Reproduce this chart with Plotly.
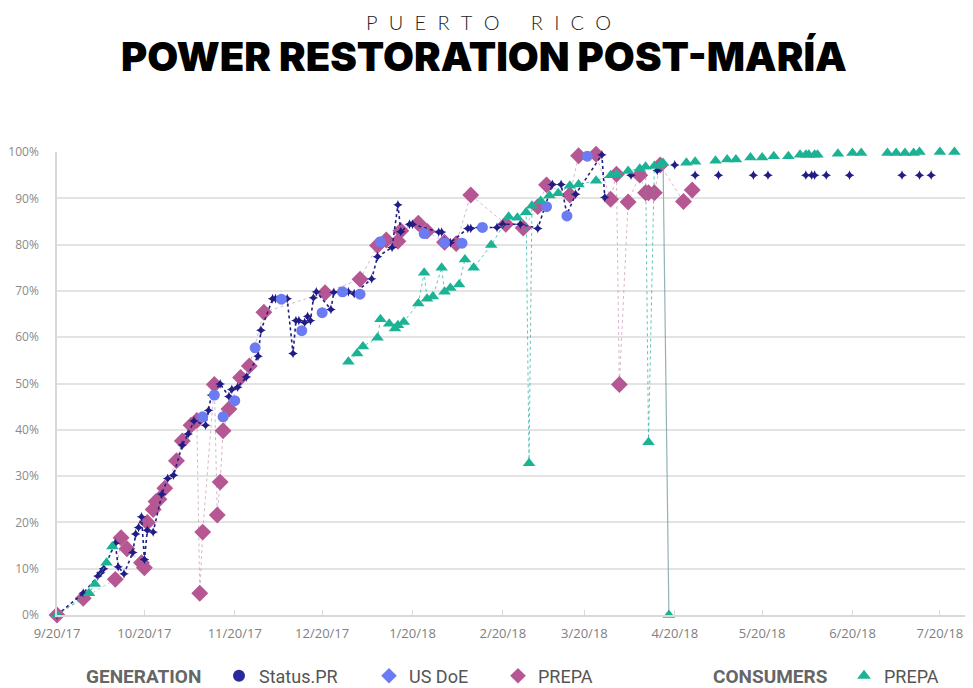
import plotly.graph_objects as go

# ---------------- DATA ----------------
# Generation - Status.PR (connected part)
status_dates = ["2017-09-20","2017-09-29","2017-10-04","2017-10-05","2017-10-06","2017-10-10","2017-10-11",
    "2017-10-13","2017-10-16","2017-10-17","2017-10-18","2017-10-19","2017-10-20","2017-10-21","2017-10-23",
    "2017-10-26","2017-10-28","2017-10-30","2017-11-02","2017-11-04","2017-11-06","2017-11-10","2017-11-11",
    "2017-11-12","2017-11-15","2017-11-18","2017-11-19","2017-11-21","2017-11-24","2017-11-28","2017-11-29",
    "2017-12-03","2017-12-04","2017-12-08","2017-12-10","2017-12-11","2017-12-12","2017-12-14","2017-12-15",
    "2017-12-16","2017-12-17","2017-12-18","2017-12-23","2017-12-24","2017-12-26","2017-12-29","2017-12-31",
    "2018-01-06","2018-01-08","2018-01-13","2018-01-15","2018-01-16","2018-01-19","2018-01-20","2018-01-29",
    "2018-01-30","2018-01-31","2018-02-02","2018-02-08","2018-02-09","2018-02-12","2018-02-18","2018-02-20",
    "2018-02-26","2018-03-04","2018-03-09","2018-03-12","2018-03-14","2018-03-17","2018-03-26","2018-03-27"]
status_vals = [0,4.7,8.4,9.1,10.0,15.5,10.4,8.9,13.5,17.5,18.9,21.2,12.0,18.3,17.9,26.1,29.5,30.2,36.7,39.1,
    41.9,41.0,44.2,47.5,49.9,47.2,48.7,49.2,51.4,55.9,61.5,68.3,68.3,68.3,56.5,63.6,63.6,63.2,64.5,63.6,68.5,
    69.8,66.0,69.7,69.8,69.8,69.4,72.6,77.4,79.4,88.6,82.8,84.4,84.4,82.7,82.7,80.8,80.4,83.5,83.5,83.7,83.7,
    84.4,84.4,83.5,93.0,93.0,86.5,90.9,99.4,90.2]
# Generation - Status.PR (isolated reports)
status_late_dates = ["2018-04-05","2018-04-14","2018-04-20","2018-04-27","2018-05-05","2018-05-17","2018-05-22",
    "2018-06-04","2018-06-06","2018-06-07","2018-06-11","2018-06-19","2018-07-07","2018-07-13","2018-07-17"]
status_late_vals = [95.0,96.0,97.2,95.0,95.0,95.0,95.0,95.0,95.0,95.0,95.0,95.0,95.0,95.0,95.0]

# Generation - US DoE
doe_dates = ["2017-11-09","2017-11-13","2017-11-16","2017-11-20","2017-11-27","2017-12-06","2017-12-13",
    "2017-12-20","2017-12-27","2018-01-02","2018-01-09","2018-01-24","2018-01-31","2018-02-06","2018-02-13",
    "2018-03-07","2018-03-14","2018-03-21"]
doe_vals = [42.8,47.5,42.8,46.3,57.7,68.2,61.4,65.3,69.8,69.3,80.6,82.4,80.4,80.3,83.7,88.2,86.2,99.1]

# Generation - PREPA
prepa_gen_dates = ["2017-09-20","2017-09-29","2017-10-10","2017-10-12","2017-10-14","2017-10-19","2017-10-20",
    "2017-10-21","2017-10-23","2017-10-24","2017-10-25","2017-10-27","2017-10-31","2017-11-02","2017-11-05",
    "2017-11-07","2017-11-08","2017-11-09","2017-11-13","2017-11-14","2017-11-15","2017-11-16","2017-11-18",
    "2017-11-22","2017-11-25","2017-11-30","2017-12-21","2018-01-02","2018-01-08","2018-01-11","2018-01-15",
    "2018-01-16","2018-01-22","2018-01-25","2018-01-31","2018-02-04","2018-02-09","2018-02-21","2018-02-27",
    "2018-03-04","2018-03-07","2018-03-15","2018-03-18","2018-03-24","2018-03-29","2018-03-31","2018-04-01",
    "2018-04-04","2018-04-08","2018-04-10","2018-04-11","2018-04-13","2018-04-15","2018-04-23","2018-04-26"]
prepa_gen_vals = [0,3.6,7.7,16.7,14.3,11.3,10.2,20.0,22.8,24.5,25.0,27.4,33.3,37.6,41.0,42.0,4.7,17.9,49.8,
    21.6,28.7,39.8,44.5,51.3,53.8,65.4,69.6,72.5,79.8,81.0,80.7,83.0,84.6,82.9,80.5,80.2,90.7,84.4,83.6,88.2,
    92.9,90.7,99.2,99.5,89.8,95.2,49.8,89.2,95.0,91.2,91.2,91.2,97.2,89.3,91.8]

# Consumers - PREPA
cons_early_dates = ["2017-09-20","2017-10-01","2017-10-03","2017-10-07","2017-10-09"]
cons_early_vals = [0,4.7,6.7,11.3,14.8]
cons_dates = ["2017-12-29","2018-01-01","2018-01-03","2018-01-08","2018-01-09","2018-01-12","2018-01-14",
    "2018-01-15","2018-01-17","2018-01-22","2018-01-24","2018-01-25","2018-01-27","2018-01-30","2018-01-31",
    "2018-02-02","2018-02-05","2018-02-07","2018-02-10","2018-02-16","2018-02-22","2018-02-25","2018-02-28",
    "2018-03-01","2018-03-02","2018-03-05","2018-03-08","2018-03-11","2018-03-15","2018-03-18","2018-03-24",
    "2018-03-29","2018-03-31","2018-04-04","2018-04-08","2018-04-10","2018-04-11","2018-04-13","2018-04-15",
    "2018-04-16"]
cons_vals = [54.7,56.5,58.0,59.9,63.9,62.9,61.9,62.6,63.3,67.3,73.9,68.3,68.8,75.0,69.8,70.6,71.4,76.8,75.0,
    79.9,86.0,85.8,87.0,32.8,88.4,89.4,90.6,91.1,92.7,93.0,93.8,95.0,95.2,95.9,96.4,96.8,37.3,97.0,97.2,97.6]
# island-wide blackout report
blackout_date = ["2018-04-18"]
blackout_val = [0]
cons_late_dates = ["2018-04-24","2018-04-27","2018-05-04","2018-05-08","2018-05-11","2018-05-16","2018-05-20",
    "2018-05-24","2018-05-29","2018-06-02","2018-06-04","2018-06-05","2018-06-07","2018-06-08","2018-06-15",
    "2018-06-20","2018-06-23","2018-07-02","2018-07-05","2018-07-08","2018-07-11","2018-07-13","2018-07-20",
    "2018-07-25"]
cons_late_vals = [97.7,97.9,98.1,98.4,98.4,98.8,98.8,99.1,99.1,99.4,99.4,99.4,99.4,99.4,99.6,99.8,99.8,99.8,
    99.8,99.8,99.8,100,100,100]

tick_dates = ["2017-09-20","2017-10-20","2017-11-20","2017-12-20","2018-01-20","2018-02-20","2018-03-20",
    "2018-04-20","2018-05-20","2018-06-20","2018-07-20"]
tick_labels = ["9/20/17","10/20/17","11/20/17","12/20/17","1/20/18","2/20/18","3/20/18","4/20/18",
    "5/20/18","6/20/18","7/20/18"]
y_ticks = [0,10,20,30,40,50,60,70,80,90,100]
y_labels = ["0%","10%","20%","30%","40%","50%","60%","70%","80%","90%","100%"]

# ---------------- STYLE ----------------
NAVY = "#211d86"
DOE = "#6b7cf2"
PINK = "#b55793"
TEAL = "#1cb395"

fig = go.Figure()

fig.add_trace(go.Scatter(x=prepa_gen_dates, y=prepa_gen_vals, mode="lines+markers",
    line=dict(color="rgba(205,165,190,0.8)", width=1, dash="dot"),
    marker=dict(symbol="diamond", size=13, color=PINK), cliponaxis=False, showlegend=False))
fig.add_trace(go.Scatter(x=status_dates, y=status_vals, mode="lines+markers",
    line=dict(color=NAVY, width=1.6, dash="dot"),
    marker=dict(symbol="star-diamond", size=7, color=NAVY), cliponaxis=False, showlegend=False))
fig.add_trace(go.Scatter(x=status_late_dates, y=status_late_vals, mode="markers",
    marker=dict(symbol="star-diamond", size=7, color=NAVY), cliponaxis=False, showlegend=False))
fig.add_trace(go.Scatter(x=doe_dates, y=doe_vals, mode="markers",
    marker=dict(symbol="circle", size=11, color=DOE), cliponaxis=False, showlegend=False))
fig.add_trace(go.Scatter(x=[cons_dates[-1], blackout_date[0]], y=[cons_vals[-1], blackout_val[0]],
    mode="lines", line=dict(color="rgba(120,160,165,0.8)", width=1.2),
    cliponaxis=False, showlegend=False, hoverinfo="skip"))
fig.add_trace(go.Scatter(x=cons_early_dates + [None] + cons_dates, y=cons_early_vals + [None] + cons_vals,
    mode="lines+markers", line=dict(color="rgba(40,180,160,0.75)", width=1, dash="dot"),
    marker=dict(symbol="triangle-up", size=11, color=TEAL), cliponaxis=False, showlegend=False))
fig.add_trace(go.Scatter(x=blackout_date + cons_late_dates, y=blackout_val + cons_late_vals, mode="markers",
    marker=dict(symbol="triangle-up", size=11, color=TEAL), cliponaxis=False, showlegend=False))

# legend entries (one legend per entry for exact placement)
legend_items = [("Status.PR", "circle", 15, "#2b2a9a", "legend", 241),
                ("US DoE", "diamond", 16, DOE, "legend2", 391),
                ("PREPA", "diamond", 16, PINK, "legend3", 520),
                ("PREPA", "triangle-up", 16, TEAL, "legend4", 866)]
legend_layout = {}
for name, sym, size, col, lg, px in legend_items:
    fig.add_trace(go.Scatter(x=[None], y=[None], mode="markers", name=name,
        marker=dict(symbol=sym, size=size, color=col), legend=lg))
    legend_layout[lg] = dict(orientation="h", yanchor="middle", xanchor="left",
        x=(px - 22 - 57) / 913, y=(615 - 676) / 463,
        font=dict(family="Roboto", size=18, color="#555555"),
        bgcolor="rgba(0,0,0,0)", itemsizing="constant")

# page has an 8px body margin: shift the figure so the plot lands at x 57..970, y 152..615
fig.update_layout(
    width=965, height=680,
    margin=dict(l=49, r=3, t=144, b=73, autoexpand=False),
    paper_bgcolor="white", plot_bgcolor="white",
    font=dict(family="Lato", color="#888888"),
    xaxis=dict(type="date", range=["2017-09-20", "2018-07-30 08:00"],
        tickvals=tick_dates, ticktext=tick_labels, showgrid=False,
        showline=True, linecolor="#d9d9d9", linewidth=1.5,
        ticks="inside", ticklen=5, tickcolor="#d9d9d9", ticklabelstandoff=6,
        tickfont=dict(family="Open Sans", size=13, color="#808080"), zeroline=False),
    yaxis=dict(range=[0, 100], tickvals=y_ticks, ticktext=y_labels,
        showgrid=True, gridcolor="#e3e3e3", gridwidth=1.5,
        showline=True, linecolor="#d9d9d9", linewidth=1.5, zeroline=False,
        tickfont=dict(family="Open Sans", size=12, color="#8a8a8a"), ticks="", ticklabelstandoff=14),
    annotations=[
        dict(text="P\u2002\u200aU\u2002\u200aE\u2002\u200aR\u2002\u200aT\u2002\u200aO\u2002\u2002\u2002\u200aR\u2002\u200aI\u2002\u200aC\u2002\u200aO",
             xref="paper", yref="paper", x=(488 - 57) / 913, y=1 + 144 / 463,
             xanchor="center", yanchor="top", showarrow=False,
             font=dict(family="Lato", size=20, color="#222222", weight=300)),
        dict(text="POWER RESTORATION POST-MARÍA",
             xref="paper", yref="paper", x=(484 - 57) / 913, y=1 + (152 - 56) / 463,
             xanchor="center", yanchor="middle", showarrow=False,
             font=dict(family="Inter", size=40, color="#000000", weight=900)),
        dict(text="<b>GENERATION</b>", xref="paper", yref="paper",
             x=(84 - 57) / 913, y=(615 - 676) / 463, xanchor="left", yanchor="middle", showarrow=False,
             font=dict(family="Roboto", size=19, color="#666666")),
        dict(text="<b>CONSUMERS</b>", xref="paper", yref="paper",
             x=(711 - 57) / 913, y=(615 - 676) / 463, xanchor="left", yanchor="middle", showarrow=False,
             font=dict(family="Roboto", size=19, color="#666666")),
    ],
    **legend_layout,
)

fig.write_html("out.html")
